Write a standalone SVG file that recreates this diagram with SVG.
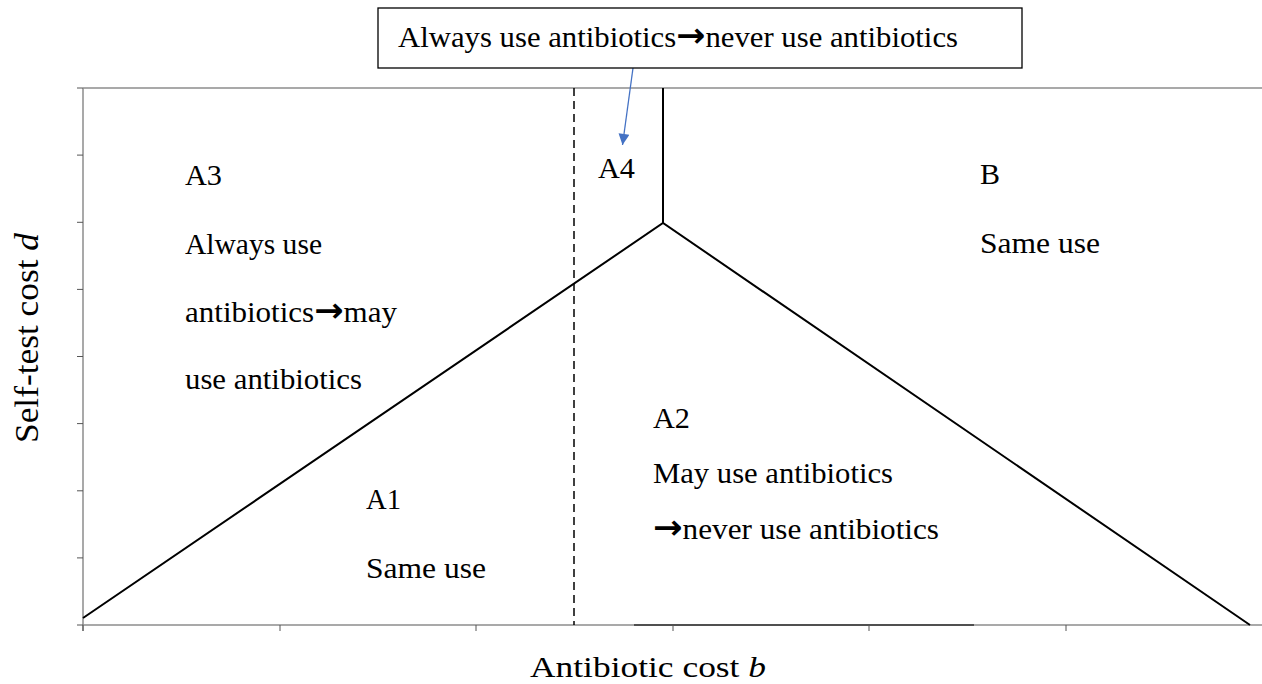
<svg xmlns="http://www.w3.org/2000/svg" width="1262" height="684" viewBox="0 0 1262 684">
  <defs>
    <style>
      .lbl { font-family: "Liberation Serif", "Times New Roman", serif; font-size: 30px; fill: #000; }
      .axis { stroke: #8c8c8c; stroke-width: 1.5; fill: none; }
      .tick { stroke: #555; stroke-width: 1; }
      .boundary { stroke: #000; stroke-width: 2; fill: none; }
      .arr { font-family: "DejaVu Sans", sans-serif; font-weight: bold; font-size: 34px; }
    </style>
    <marker id="blueHead" viewBox="0 0 10 10" refX="10" refY="5" markerWidth="15" markerHeight="11" orient="auto" markerUnits="userSpaceOnUse">
      <path d="M0,0 L10,5 L0,10 Z" fill="#4472C4"/>
    </marker>
  </defs>

  <rect x="0" y="0" width="1262" height="684" fill="#fff"/>

  <!-- plot frame and axes -->
  <g id="axes">
    <line class="axis" x1="83" y1="88" x2="1262" y2="88"/>
    <line class="axis" x1="83" y1="88" x2="83" y2="631"/>
    <line class="axis" x1="83" y1="625" x2="1262" y2="625"/>
    <line x1="634" y1="625" x2="974" y2="625" stroke="#333" stroke-width="1.5"/>
    <!-- y ticks -->
    <g class="tick">
      <line x1="77" y1="88" x2="83" y2="88"/>
      <line x1="77" y1="155.1" x2="83" y2="155.1"/>
      <line x1="77" y1="222.3" x2="83" y2="222.3"/>
      <line x1="77" y1="289.4" x2="83" y2="289.4"/>
      <line x1="77" y1="356.5" x2="83" y2="356.5"/>
      <line x1="77" y1="423.6" x2="83" y2="423.6"/>
      <line x1="77" y1="490.8" x2="83" y2="490.8"/>
      <line x1="77" y1="557.9" x2="83" y2="557.9"/>
      <line x1="77" y1="625" x2="83" y2="625"/>
    </g>
    <!-- x ticks -->
    <g class="tick">
      <line x1="83" y1="625" x2="83" y2="631"/>
      <line x1="280" y1="625" x2="280" y2="631"/>
      <line x1="476" y1="625" x2="476" y2="631"/>
      <line x1="673" y1="625" x2="673" y2="631"/>
      <line x1="869" y1="625" x2="869" y2="631"/>
      <line x1="1066" y1="625" x2="1066" y2="631"/>
    </g>
    <text id="x-title" class="lbl" x="530" y="677" textLength="236" lengthAdjust="spacingAndGlyphs">Antibiotic cost <tspan font-style="italic">b</tspan></text>
    <text id="y-title" class="lbl" transform="translate(38,443) rotate(-90)" style="font-size:33px" textLength="210" lengthAdjust="spacingAndGlyphs">Self-test cost <tspan font-style="italic">d</tspan></text>
  </g>

  <!-- region boundaries -->
  <g id="connectors">
    <polyline class="boundary" points="83,618 663,223 1250,625"/>
    <line class="boundary" x1="663" y1="88" x2="663" y2="223"/>
    <line x1="574" y1="88" x2="574" y2="625" stroke="#000" stroke-width="1.5" stroke-dasharray="8,5"/>
    <line x1="633" y1="68" x2="622.5" y2="145" stroke="#4472C4" stroke-width="1.3" marker-end="url(#blueHead)"/>
  </g>

  <!-- callout for region A4 -->
  <g id="callout">
    <rect x="378" y="8" width="644" height="60" fill="#fff" stroke="#000" stroke-width="1.3"/>
    <text class="lbl" x="398" y="47" textLength="560" lengthAdjust="spacingAndGlyphs">Always use antibiotics<tspan class="arr">→</tspan>never use antibiotics</text>
  </g>

  <g id="region-A3">
    <text class="lbl" x="185" y="185" textLength="37" lengthAdjust="spacingAndGlyphs">A3</text>
    <text class="lbl" x="185" y="254" textLength="137" lengthAdjust="spacingAndGlyphs">Always use</text>
    <text class="lbl" x="185" y="322" textLength="212" lengthAdjust="spacingAndGlyphs">antibiotics<tspan class="arr">→</tspan>may</text>
    <text class="lbl" x="185" y="389" textLength="177" lengthAdjust="spacingAndGlyphs">use antibiotics</text>
  </g>

  <g id="region-A4">
    <text class="lbl" x="598" y="178" textLength="37" lengthAdjust="spacingAndGlyphs">A4</text>
  </g>

  <g id="region-B">
    <text class="lbl" x="980" y="184" textLength="20" lengthAdjust="spacingAndGlyphs">B</text>
    <text class="lbl" x="980" y="253" textLength="120" lengthAdjust="spacingAndGlyphs">Same use</text>
  </g>

  <g id="region-A2">
    <text class="lbl" x="653" y="428" textLength="37" lengthAdjust="spacingAndGlyphs">A2</text>
    <text class="lbl" x="653" y="483" textLength="240" lengthAdjust="spacingAndGlyphs">May use antibiotics</text>
    <text class="lbl" x="653" y="539" textLength="286" lengthAdjust="spacingAndGlyphs"><tspan class="arr">→</tspan>never use antibiotics</text>
  </g>

  <g id="region-A1">
    <text class="lbl" x="366" y="509" textLength="35" lengthAdjust="spacingAndGlyphs">A1</text>
    <text class="lbl" x="366" y="578" textLength="120" lengthAdjust="spacingAndGlyphs">Same use</text>
  </g>
</svg>
